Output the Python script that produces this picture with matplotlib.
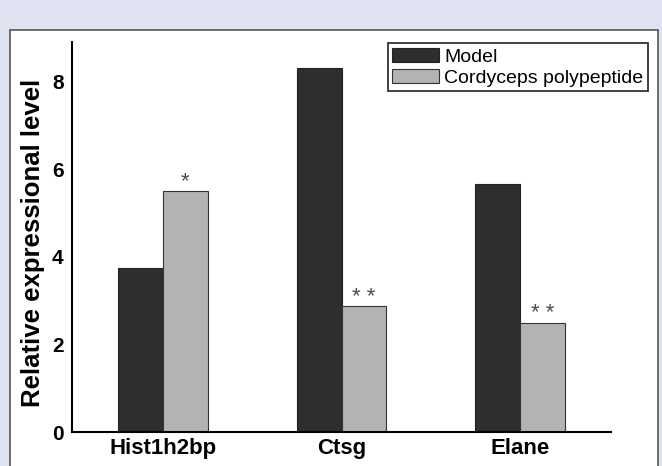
import matplotlib.pyplot as plt
from matplotlib.patches import Rectangle
import numpy as np

# datos
genes = ['Hist1h2bp', 'Ctsg', 'Elane']
model = [3.75, 8.31, 5.66]
cordyceps = [5.51, 2.87, 2.49]
marcas = ['*', '* *', '* *']

plt.rcParams['font.family'] = ['Liberation Sans', 'DejaVu Sans']

fig = plt.figure(figsize=(6.62, 4.66), dpi=100)
fig.patch.set_facecolor('#dfe2f1')

# panel blanco con borde (detras de los ejes)
panel = Rectangle((10 / 662, -0.05), 648 / 662, 1 - 30 / 466 + 0.05,
                  transform=fig.transFigure, facecolor='white',
                  edgecolor='#555555', linewidth=1.2, zorder=-1)
fig.add_artist(panel)

ax = fig.add_axes([72 / 662, 34 / 466, 539 / 662, 390 / 466])
ax.set_facecolor('none')

x = np.arange(len(genes))
w = 0.25
ax.bar(x - w / 2, model, w, color='#2e2e2e', edgecolor='#222222', linewidth=0.8, label='Model')
barras = ax.bar(x + w / 2, cordyceps, w, color='#b3b3b3', edgecolor='#333333', linewidth=0.8,
                label='Cordyceps polypeptide')

# asteriscos de significancia
for b, m in zip(barras, marcas):
    ax.annotate(m, (b.get_x() + b.get_width() / 2, b.get_height()), xytext=(0, -1),
                textcoords='offset points', ha='center', va='bottom',
                fontsize=16, color='#4d4d4d')

ax.set_xlim(-0.51, 2.51)
ax.set_ylim(0, 8.91)
ax.set_yticks([0, 2, 4, 6, 8])
ax.set_xticks(x)
ax.set_xticklabels(genes, fontsize=16, fontweight='bold')
ax.tick_params(axis='y', length=0, pad=6, labelsize=15)
ax.tick_params(axis='x', length=0, pad=4)
for t in ax.get_yticklabels():
    t.set_fontweight('bold')

ax.set_ylabel('Relative expressional level', fontsize=18.5, fontweight='bold')
ax.yaxis.set_label_coords(-0.051, 0.486)

for s in ['top', 'right']:
    ax.spines[s].set_visible(False)
for s in ['left', 'bottom']:
    ax.spines[s].set_linewidth(1.5)

leg = ax.legend(loc='upper right', bbox_to_anchor=(648 / 662, 1 - 43 / 466),
                bbox_transform=fig.transFigure, borderaxespad=0, fontsize=14,
                frameon=True, fancybox=False, handlelength=2.4, handleheight=0.75,
                handletextpad=0.25, labelspacing=0.15, borderpad=0.25)
leg.get_frame().set_edgecolor('black')
leg.get_frame().set_linewidth(1.3)

fig.savefig('out.png', dpi=100, facecolor=fig.get_facecolor())
